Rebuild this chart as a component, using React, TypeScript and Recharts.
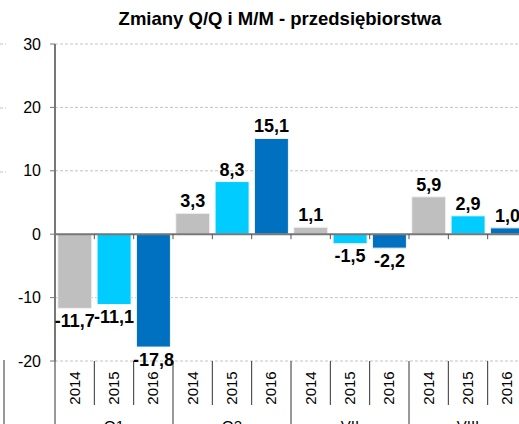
import React from "react"
import {
  BarChart,
  Bar,
  Cell,
  XAxis,
  YAxis,
  CartesianGrid,
  ReferenceLine,
  LabelList
} from "recharts"

// values
const years = ["2014", "2015", "2016", "2014", "2015", "2016", "2014", "2015", "2016", "2014", "2015", "2016"]
const groups = ["Q1", "Q1", "Q1", "Q2", "Q2", "Q2", "VII", "VII", "VII", "VIII", "VIII", "VIII"]
const values = [-11.7, -11.1, -17.8, 3.3, 8.3, 15.1, 1.1, -1.5, -2.2, 5.9, 2.9, 1.0]
const yTicks = [-20, -10, 0, 10, 20, 30]
const yearColors: Record<string, string> = {
  "2014": "#bfbfbf",
  "2015": "#00ccff",
  "2016": "#0070c0"
}
const title = "Zmiany Q/Q i M/M - przedsiębiorstwa"

const data = values.map((v, i) => ({ idx: i, year: years[i], group: groups[i], value: v }))

// layout
const CHART_W = 540
const CHART_H = 440
const MARGIN = { top: 44, right: 13, bottom: 0, left: 0 }
const Y_AXIS_W = 55
const X_AXIS_H = 79
const BAND_W = (CHART_W - MARGIN.left - MARGIN.right - Y_AXIS_W) / data.length
const FONT = "'Liberation Sans', Arial, sans-serif"

const fmt = (v: any) => (typeof v === "number" ? v.toFixed(1).replace(".", ",") : v)

function YearTick(props: any) {
  const { x, y, payload } = props
  const i = payload.index ?? payload.value
  const d = data[i]
  const groupStart = i === 0 || groups[i - 1] !== d.group
  const members = data.filter((e) => e.group === d.group)
  const isMiddle = members[Math.floor(members.length / 2)].idx === i
  const left = x - BAND_W / 2
  return (
    <g>
      <line x1={left} x2={left} y1={y} y2={y + (groupStart ? 80 : 44)} stroke="#333" strokeWidth={1} />
      {i === data.length - 1 && (
        <line x1={x + BAND_W / 2} x2={x + BAND_W / 2} y1={y} y2={y + 80} stroke="#333" strokeWidth={1} />
      )}
      <text
        x={0}
        y={0}
        transform={`translate(${x + 5}, ${y + 27}) rotate(-90)`}
        textAnchor="middle"
        fontSize={15}
        fontFamily={FONT}
        fill="#000"
      >
        {d.year}
      </text>
      {isMiddle && (
        <text x={x} y={y + 70} textAnchor="middle" fontSize={15} fontFamily={FONT} fill="#000">
          {d.group}
        </text>
      )}
    </g>
  )
}

function ZeroLine(props: any) {
  const { x1, y1, x2 } = props
  const marks = data.map((_, k) => x1 + (k + 1) * BAND_W)
  return (
    <g>
      <line x1={x1} x2={x2} y1={y1} y2={y1} stroke="#777" strokeWidth={2} />
      {marks.map((mx, k) => (
        <line key={k} x1={mx} x2={mx} y1={y1} y2={y1 + 5} stroke="#555" strokeWidth={1} />
      ))}
    </g>
  )
}

export default function App() {
  return (
    <div
      style={{
        position: "absolute",
        top: 0,
        left: 0,
        width: 519,
        height: 424,
        overflow: "hidden",
        background: "#fff",
        fontFamily: FONT
      }}
    >
      <div
        style={{
          position: "absolute",
          top: 10,
          left: 0,
          width: 560,
          textAlign: "center",
          fontSize: 18.5,
          lineHeight: "18px",
          fontWeight: "bold",
          color: "#000"
        }}
      >
        {title}
      </div>
      <svg width={8} height={424} style={{ position: "absolute", top: 0, left: 0 }}>
        {[44, 108, 172].map((gy) => (
          <line key={gy} x1={0} x2={6} y1={gy} y2={gy} stroke="#c0c0c0" strokeDasharray="3 2" />
        ))}
        <line x1={4} x2={4} y1={360} y2={424} stroke="#333" />
      </svg>
      <div style={{ position: "absolute", top: 0, left: 0 }}>
        <BarChart width={CHART_W} height={CHART_H} data={data} margin={MARGIN} barCategoryGap="7%">
          <CartesianGrid vertical={false} stroke="#c4c4c4" strokeDasharray="3 2" />
          <XAxis
            dataKey="idx"
            type="category"
            axisLine={false}
            tickLine={false}
            tickSize={0}
            tickMargin={0}
            height={X_AXIS_H}
            interval={0}
            tick={<YearTick />}
          />
          <YAxis
            domain={[-20, 30]}
            ticks={yTicks}
            width={Y_AXIS_W}
            axisLine={{ stroke: "#777", strokeWidth: 2 }}
            tickLine={{ stroke: "#777", strokeWidth: 1 }}
            tickSize={5}
            tickMargin={9}
            tick={{ fontSize: 16, fill: "#000", fontFamily: FONT }}
          />
          <Bar dataKey="value" isAnimationActive={false}>
            {data.map((d) => (
              <Cell key={d.idx} fill={yearColors[d.year]} stroke="#f4f4f4" strokeWidth={1} />
            ))}
            <LabelList
              dataKey="value"
              position="top"
              offset={6}
              formatter={fmt}
              fill="#000"
              fontSize={18}
              fontWeight="bold"
              fontFamily={FONT}
            />
          </Bar>
          <ReferenceLine y={0} shape={<ZeroLine />} />
        </BarChart>
      </div>
    </div>
  )
}
